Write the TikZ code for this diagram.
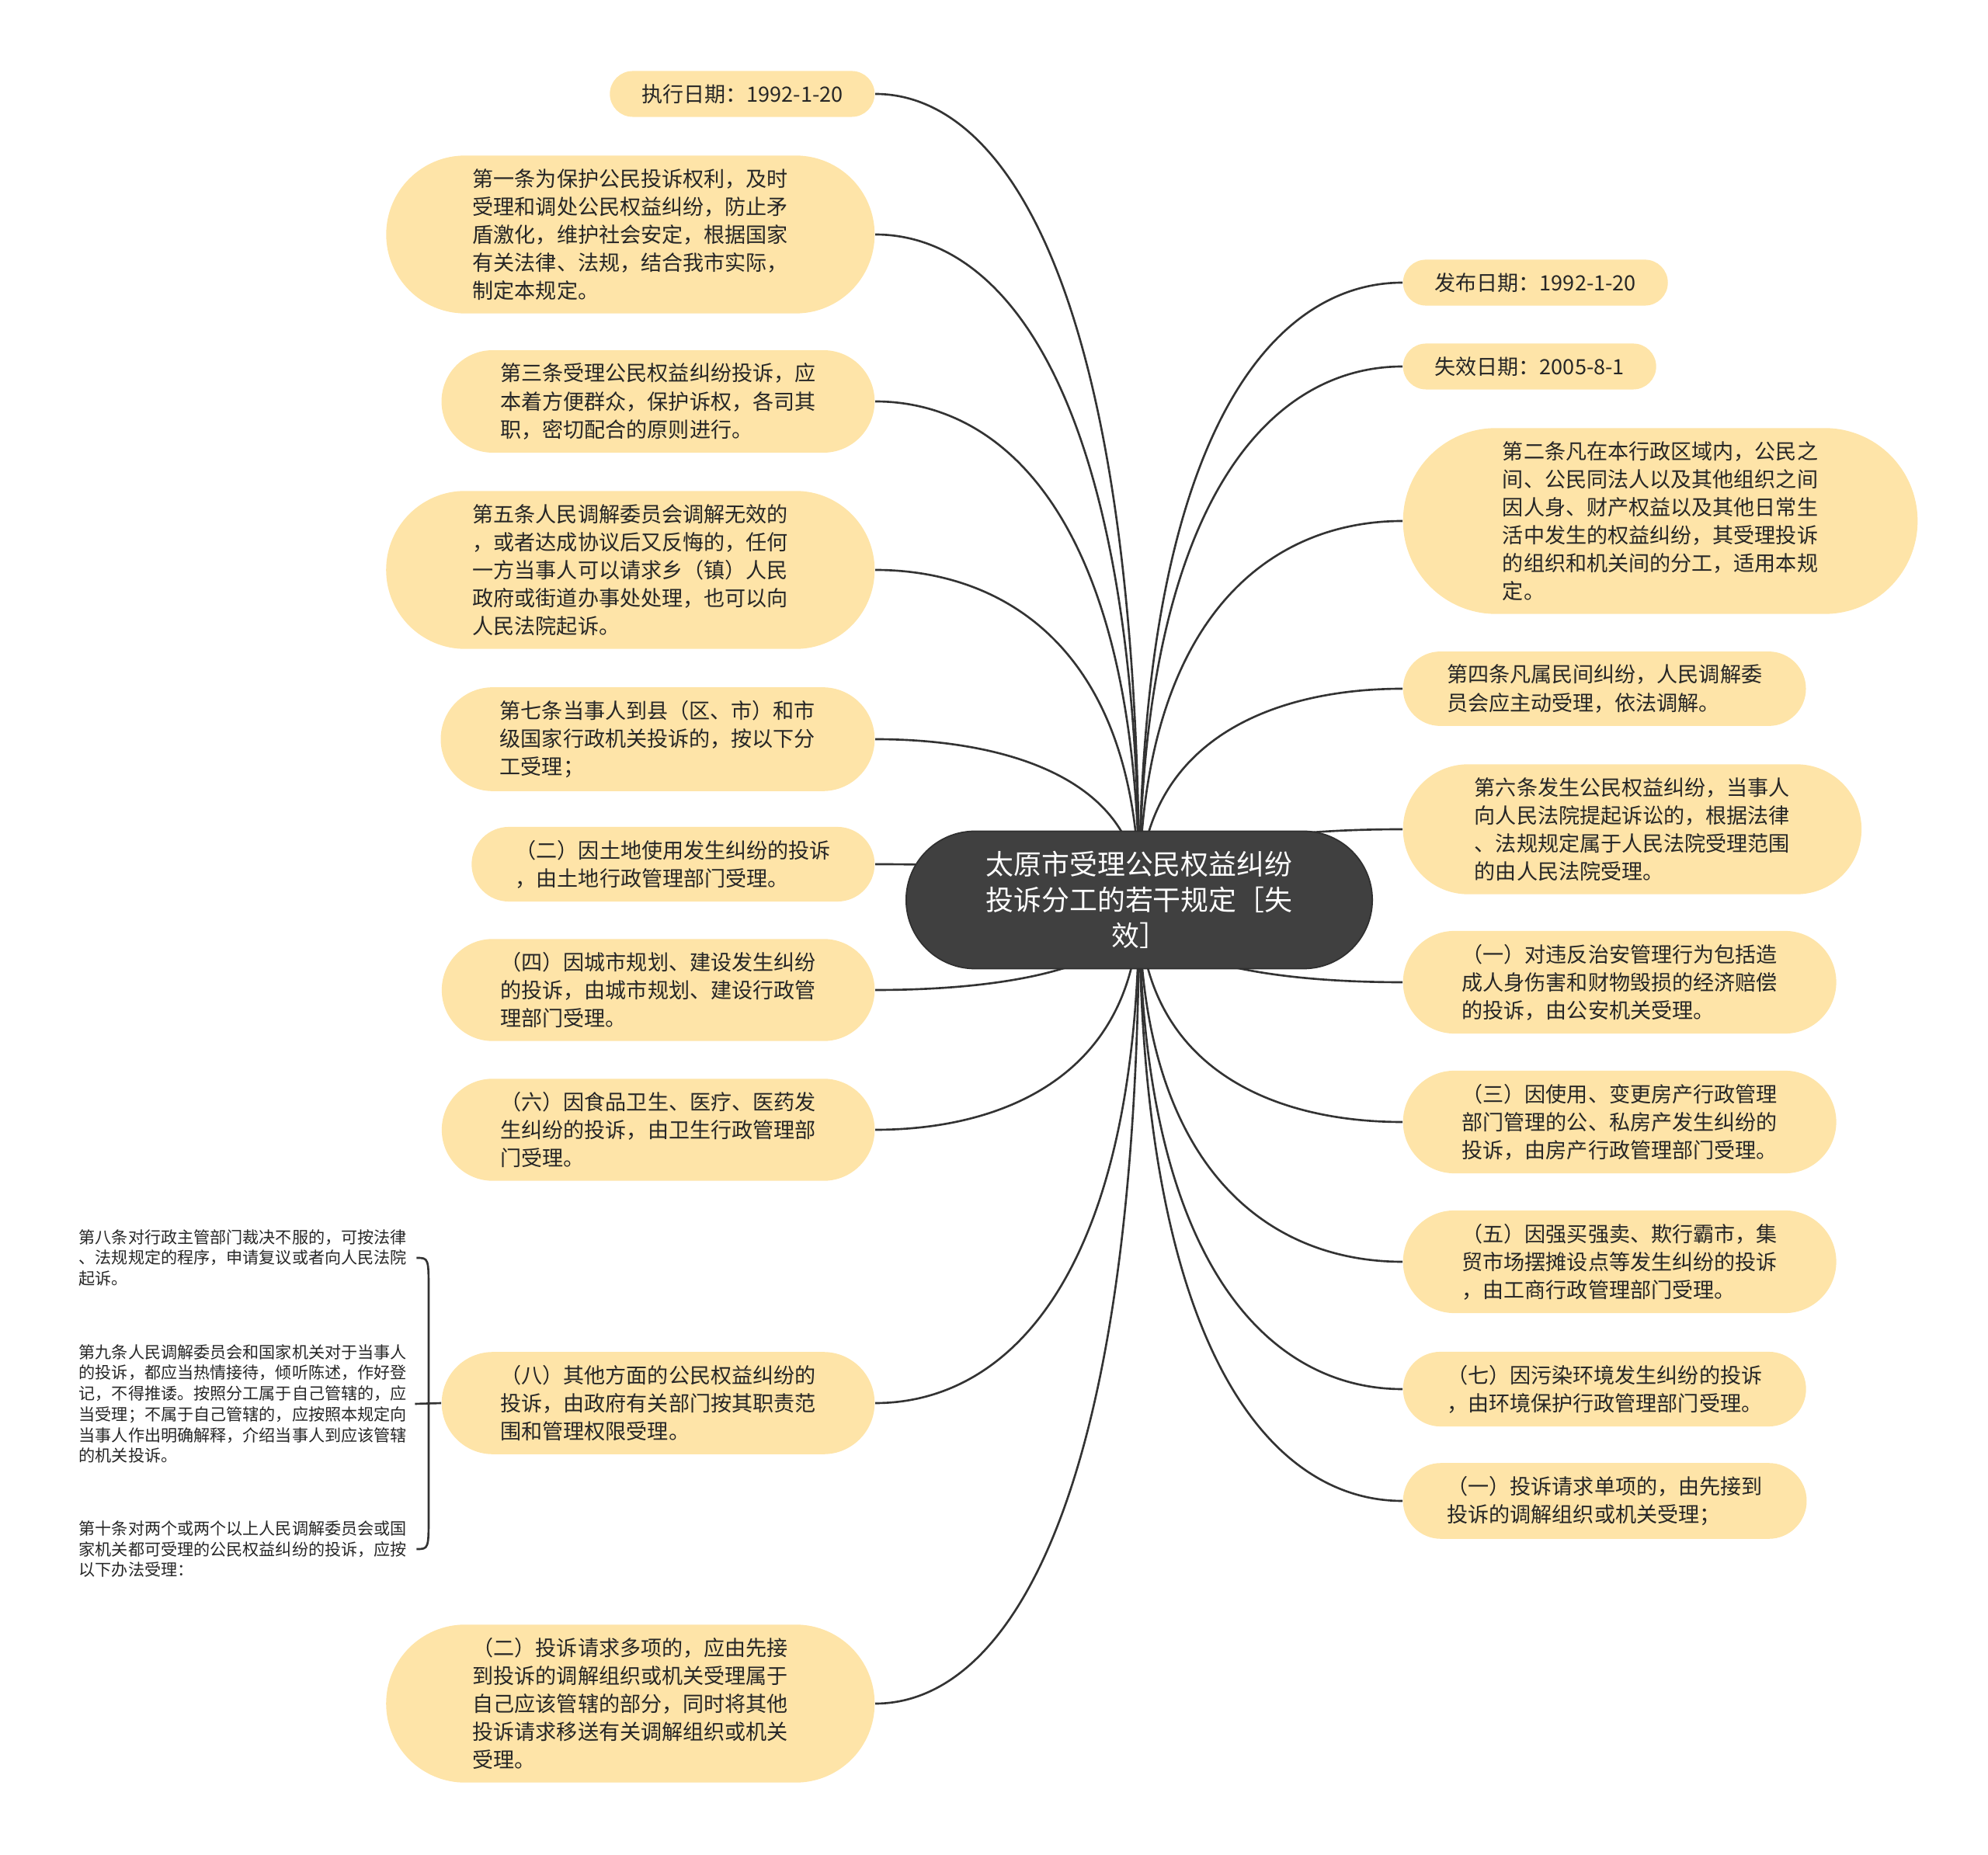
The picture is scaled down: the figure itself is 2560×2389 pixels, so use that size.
\documentclass[tikz,border=0pt]{standalone}
\usepackage{fontspec}
\newfontfamily\cjk{Noto Sans CJK SC}
\usepackage{xcolor}
\definecolor{rootGray}{RGB}{64,64,64}
\definecolor{leafFill}{RGB}{254,228,168}
\definecolor{branchGray}{RGB}{51,51,51}
\definecolor{textDark}{RGB}{38,38,38}
\usepackage{tikz}
\usetikzlibrary{shapes.misc,calc,backgrounds}
\tikzstyle{rootnode}=[rounded rectangle, fill=rootGray, draw=rootGray!75!black, line width=0.5pt, text=white, align=center, inner xsep=0.77cm, inner ysep=0.26cm, font=\cjk\fontsize{10.2pt}{13pt}\selectfont]
\tikzstyle{leaf}=[rounded rectangle, fill=leafFill, text=textDark, align=left, inner xsep=0.09cm, inner ysep=0.17cm, font=\cjk\fontsize{7.7pt}{10.25pt}\selectfont]
\tikzstyle{leftleaf}=[leaf, anchor=east]
\tikzstyle{rightleaf}=[leaf, anchor=west]
% padding by number of text lines
\tikzstyle{rows1}=[inner xsep=0.38cm]
\tikzstyle{rows2}=[inner xsep=0.45cm]
\tikzstyle{rows3}=[inner xsep=0.54cm]
\tikzstyle{rows4}=[inner xsep=0.59cm]
\tikzstyle{rows5}=[inner xsep=0.66cm]
\tikzstyle{rows6}=[inner xsep=0.70cm]
\tikzstyle{subtext}=[anchor=west, align=left, inner sep=0pt, text=textDark, font=\cjk\fontsize{6pt}{7.6pt}\selectfont]
\tikzstyle{branch}=[draw=branchGray, line width=0.75pt]

\begin{document}
\begin{tikzpicture}[x=0.01cm, y=-0.01cm]
    \useasboundingbox (0,0) rectangle (2560,2389);

    % --- centre ---
    \node[rootnode] (root) at (1467,1159) {太原市受理公民权益纠纷\\投诉分工的若干规定［失\\效］};

    % --- left side ---
    \node[leftleaf, rows1] (L1) at (1127,121) {执行日期：1992-1-20};
    \node[leftleaf, rows5] (L2) at (1127,302) {第一条为保护公民投诉权利，及时\\受理和调处公民权益纠纷，防止矛\\盾激化，维护社会安定，根据国家\\有关法律、法规，结合我市实际，\\制定本规定。};
    \node[leftleaf, rows3] (L3) at (1127,517) {第三条受理公民权益纠纷投诉，应\\本着方便群众，保护诉权，各司其\\职，密切配合的原则进行。};
    \node[leftleaf, rows5] (L4) at (1127,734) {第五条人民调解委员会调解无效的\\，或者达成协议后又反悔的，任何\\一方当事人可以请求乡（镇）人民\\政府或街道办事处处理，也可以向\\人民法院起诉。};
    \node[leftleaf, rows3] (L5) at (1127,952) {第七条当事人到县（区、市）和市\\级国家行政机关投诉的，按以下分\\工受理；};
    \node[leftleaf, rows2] (L6) at (1127,1113) {（二）因土地使用发生纠纷的投诉\\，由土地行政管理部门受理。};
    \node[leftleaf, rows3] (L7) at (1127,1275) {（四）因城市规划、建设发生纠纷\\的投诉，由城市规划、建设行政管\\理部门受理。};
    \node[leftleaf, rows3] (L8) at (1127,1455) {（六）因食品卫生、医疗、医药发\\生纠纷的投诉，由卫生行政管理部\\门受理。};
    \node[leftleaf, rows3] (L9) at (1127,1807) {（八）其他方面的公民权益纠纷的\\投诉，由政府有关部门按其职责范\\围和管理权限受理。};
    \node[leftleaf, rows5] (L10) at (1127,2194) {（二）投诉请求多项的，应由先接\\到投诉的调解组织或机关受理属于\\自己应该管辖的部分，同时将其他\\投诉请求移送有关调解组织或机关\\受理。};

    % --- right side ---
    \node[rightleaf, rows1] (R1) at (1806,364) {发布日期：1992-1-20};
    \node[rightleaf, rows1] (R2) at (1806,472) {失效日期：2005-8-1};
    \node[rightleaf, rows6] (R3) at (1806,671) {第二条凡在本行政区域内，公民之\\间、公民同法人以及其他组织之间\\因人身、财产权益以及其他日常生\\活中发生的权益纠纷，其受理投诉\\的组织和机关间的分工，适用本规\\定。};
    \node[rightleaf, rows2] (R4) at (1806,887) {第四条凡属民间纠纷，人民调解委\\员会应主动受理，依法调解。};
    \node[rightleaf, rows4] (R5) at (1806,1068) {第六条发生公民权益纠纷，当事人\\向人民法院提起诉讼的，根据法律\\、法规规定属于人民法院受理范围\\的由人民法院受理。};
    \node[rightleaf, rows3] (R6) at (1806,1265) {（一）对违反治安管理行为包括造\\成人身伤害和财物毁损的经济赔偿\\的投诉，由公安机关受理。};
    \node[rightleaf, rows3] (R7) at (1806,1445) {（三）因使用、变更房产行政管理\\部门管理的公、私房产发生纠纷的\\投诉，由房产行政管理部门受理。};
    \node[rightleaf, rows3] (R8) at (1806,1625) {（五）因强买强卖、欺行霸市，集\\贸市场摆摊设点等发生纠纷的投诉\\，由工商行政管理部门受理。};
    \node[rightleaf, rows2] (R9) at (1806,1789) {（七）因污染环境发生纠纷的投诉\\，由环境保护行政管理部门受理。};
    \node[rightleaf, rows2] (R10) at (1806,1933) {（一）投诉请求单项的，由先接到\\投诉的调解组织或机关受理；};

    % --- sub-items of (八) ---
    \node[subtext] (S1) at (101,1620) {第八条对行政主管部门裁决不服的，可按法律\\、法规规定的程序，申请复议或者向人民法院\\起诉。};
    \node[subtext] (S2) at (101,1808) {第九条人民调解委员会和国家机关对于当事人\\的投诉，都应当热情接待，倾听陈述，作好登\\记，不得推诿。按照分工属于自己管辖的，应\\当受理；不属于自己管辖的，应按照本规定向\\当事人作出明确解释，介绍当事人到应该管辖\\的机关投诉。};
    \node[subtext] (S3) at (101,1995) {第十条对两个或两个以上人民调解委员会或国\\家机关都可受理的公民权益纠纷的投诉，应按\\以下办法受理：};

    % brace
    \coordinate (brTop) at ($(S1.east)+(12,0)$);
    \coordinate (brBot) at ($(S3.east)+(12,0)$);
    \coordinate (brMid) at ($(S2.east)+(10,0)$);
    \draw[branch] (brTop) .. controls (552,1620) .. (552,1665) -- (552,1950) .. controls (552,1995) .. (brBot);
    \draw[branch] (brMid) -- (L9.west);

    % --- branches ---
    \begin{scope}[on background layer]
      \foreach \k in {1,...,10} {
        \draw[branch] (root.center) .. controls ($(root.center |- L\k.east)!0.25!(root.center)$)
              and ($(L\k.east)!0.5!(L\k.east -| root.center)$) .. (L\k.east);
        \draw[branch] (root.center) .. controls ($(root.center |- R\k.west)!0.25!(root.center)$)
              and ($(R\k.west)!0.5!(R\k.west -| root.center)$) .. (R\k.west);
      }
    \end{scope}
\end{tikzpicture}
\end{document}
